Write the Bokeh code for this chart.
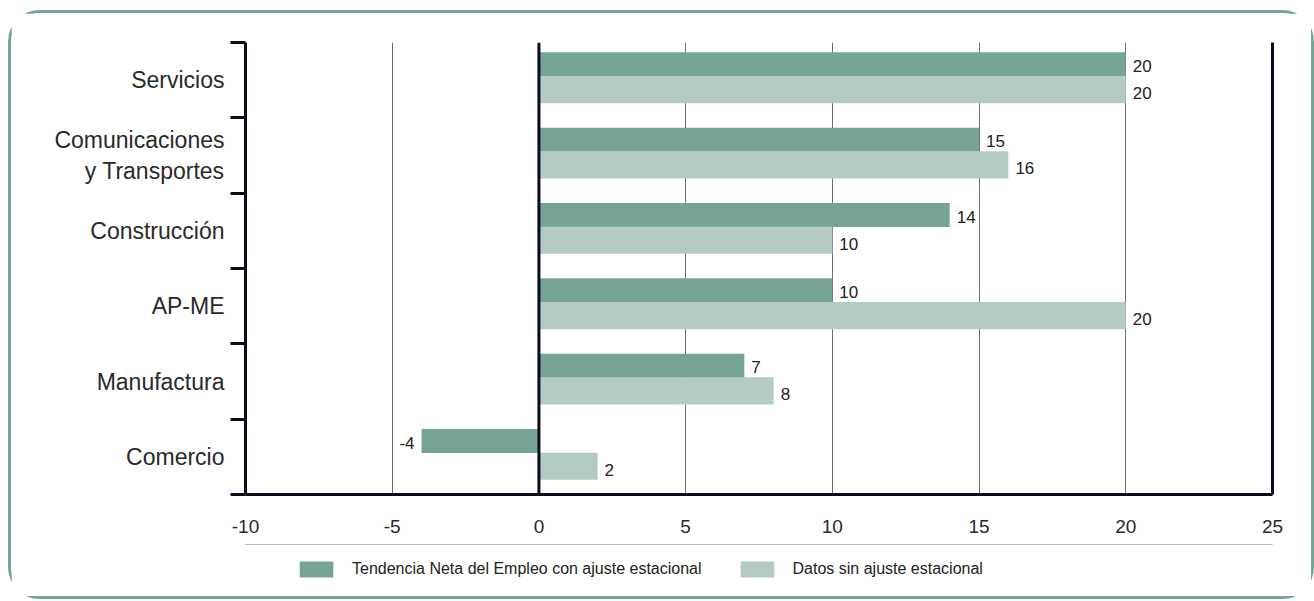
from bokeh.plotting import figure
from bokeh.layouts import column
from bokeh.models import (Range1d, LinearAxis, FixedTicker, ColumnDataSource, Span, Legend, LegendItem,
                          PrintfTickFormatter)
from bokeh.transform import dodge
from bokeh.core.properties import value
from bokeh.embed import file_html
from bokeh.resources import INLINE

categories = ["Servicios", "Comunicaciones\ny Transportes", "Construcción", "AP-ME", "Manufactura", "Comercio"]
ajustada = [20, 15, 14, 10, 7, -4]
sin_ajuste = [20, 16, 10, 20, 8, 2]
x_ticks = [-10, -5, 0, 5, 10, 15, 20, 25]
grid_ticks = [-5, 5, 10, 15, 20]
serie1 = "Tendencia Neta del Empleo con ajuste estacional"
serie2 = "Datos sin ajuste estacional"

DARK = "#76a598"
LIGHT = "#b4cbc4"
INK = "#0b0b1c"
FONT = "Liberation Sans"

n = len(categories)
ypos = [n - i - 0.5 for i in range(n)]  # category centres, first category at top
bounds = list(range(n + 1))

src = ColumnDataSource(dict(
    y=ypos,
    a=ajustada,
    b=sin_ajuste,
    la=[str(v) for v in ajustada],
    lb=[str(v) for v in sin_ajuste],
    align_a=["left" if v >= 0 else "right" for v in ajustada],
    off_a=[7 if v >= 0 else -7 for v in ajustada],
    align_b=["left" if v >= 0 else "right" for v in sin_ajuste],
    off_b=[7 if v >= 0 else -7 for v in sin_ajuste],
))

p = figure(width=1300, height=531, output_backend="svg", toolbar_location=None,
           y_range=Range1d(0, n), x_range=Range1d(-10, 25),
           x_axis_location=None, y_axis_location=None,
           min_border_left=234, min_border_right=39, min_border_top=29, min_border_bottom=50)
p.outline_line_color = None
p.ygrid.grid_line_color = None
p.xgrid.ticker = FixedTicker(ticks=grid_ticks)
p.xgrid.grid_line_color = "#6e6e7a"
p.xgrid.grid_line_width = 1

# left tick axis (category boundaries)
tick_axis = LinearAxis(ticker=FixedTicker(ticks=bounds),
                       major_label_overrides={b: "" for b in bounds}, major_label_standoff=0,
                       major_tick_out=15, major_tick_in=0, minor_tick_line_color=None,
                       major_tick_line_width=3, major_tick_line_color=INK,
                       axis_line_width=3, axis_line_color=INK)
p.add_layout(tick_axis, "left")
cat_axis = LinearAxis(ticker=FixedTicker(ticks=ypos),
                      major_label_overrides={y: c for y, c in zip(ypos, categories)},
                      major_tick_line_color=None, minor_tick_line_color=None, axis_line_color=None,
                      major_tick_out=0, major_tick_in=0, major_label_standoff=6,
                      major_label_text_font=FONT, major_label_text_font_size="23px",
                      major_label_text_color="#2a2a2a")
p.add_layout(cat_axis, "left")

right_axis = LinearAxis(ticker=FixedTicker(ticks=[]), major_tick_line_color=None,
                        minor_tick_line_color=None, axis_line_width=3, axis_line_color=INK)
p.add_layout(right_axis, "right")

x_axis = LinearAxis(ticker=FixedTicker(ticks=x_ticks), formatter=PrintfTickFormatter(format="%d"),
                    major_tick_line_color=None,
                    minor_tick_line_color=None, axis_line_width=3, axis_line_color=INK,
                    major_label_standoff=19, major_label_text_font=FONT,
                    major_label_text_font_size="19px", major_label_text_color="#2a2a2a")
p.add_layout(x_axis, "below")

p.hbar(y=dodge("y", 0.21), right="a", left=0, height=0.32,
       source=src, color=DARK, line_color=None)
p.hbar(y=dodge("y", -0.125), right="b", left=0, height=0.36,
       source=src, color=LIGHT, line_color=None)

p.add_layout(Span(location=0, dimension="height", line_color=INK, line_width=3))

p.text(x="a", y=dodge("y", 0.19), text="la", source=src,
       text_align="align_a", x_offset="off_a", text_baseline="middle",
       text_font=value(FONT), text_font_size="17px", text_color="#222222")
p.text(x="b", y=dodge("y", -0.17), text="lb", source=src,
       text_align="align_b", x_offset="off_b", text_baseline="middle",
       text_font=value(FONT), text_font_size="17px", text_color="#222222")

# legend strip (same series, drawn outside its visible range so only the legend shows)
lp = figure(width=1300, height=52, output_backend="svg", toolbar_location=None,
            x_range=Range1d(0, 1), y_range=Range1d(-3, -2),
            x_axis_location=None, y_axis_location=None, min_border=0)
lp.outline_line_color = None
lp.grid.grid_line_color = None
l1 = lp.hbar(y="y", right="a", left=0, height=0.32, source=src, color=DARK, line_color=None)
l2 = lp.hbar(y="y", right="b", left=0, height=0.36, source=src, color=LIGHT, line_color=None)
legend = Legend(items=[LegendItem(label=serie1, renderers=[l1]),
                       LegendItem(label=serie2, renderers=[l2])],
                orientation="horizontal", location=(50, 17),
                glyph_width=42, glyph_height=20, label_standoff=15, spacing=34,
                padding=0, margin=0, border_line_color=None, background_fill_alpha=0,
                label_text_font=FONT, label_text_font_size="16px", label_text_color="#222222")
lp.add_layout(legend, "center")

layout = column(p, lp, spacing=0)
layout.styles = {"border": "3px solid " + DARK, "border-radius": "32px",
                 "margin-left": "8px", "margin-top": "10px"}

open("out.html", "w").write(file_html(layout, INLINE))
